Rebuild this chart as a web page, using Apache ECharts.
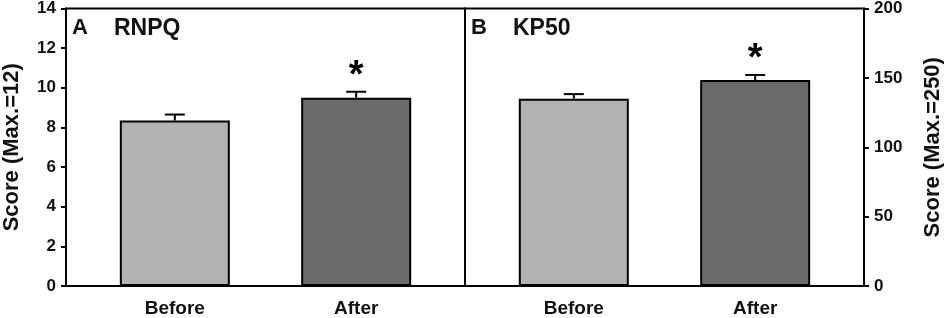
<!DOCTYPE html>
<html>
<head>
<meta charset="utf-8">
<script src="https://cdn.jsdelivr.net/npm/echarts@6/dist/echarts.min.js"></script>
<style>
  html, body { margin: 0; padding: 0; background: #fff; }
  #chart { width: 945px; height: 318px; }
</style>
</head>
<body>
<div id="chart"></div>
<script>
// data
const categories = ['Before', 'After'];
const rnpqMean = [8.35, 9.5];
const rnpqErr = [0.3, 0.3];
const kp50Mean = [135, 148.5];
const kp50Err = [3.3, 3.6];
const signif = ['', '*'];
const yTicksA = { min: 0, max: 14, interval: 2 };
const yTicksB = { min: 0, max: 200, interval: 50 };

const barColors = ['#b2b2b2', '#6b6b6b'];
const FONT = 'Liberation Sans, Arial, sans-serif';

const myChart = echarts.init(document.getElementById('chart'), null, { renderer: 'canvas' });

const barData = (means) => means.map((v, i) => ({
    value: [i, v],
    itemStyle: { color: barColors[i] }
}));
const errData = (means, errs) => means.map((v, i) => [i, v, errs[i]]);

// error bar (upper half only) + significance star
const renderErr = (params, api) => {
    const x = api.value(0);
    const top = api.coord([x, api.value(1)]);
    const hi = api.coord([x, api.value(1) + api.value(2)]);
    const half = 10;
    const style = { stroke: '#000', lineWidth: 2 };
    const children = [
        { type: 'line', shape: { x1: top[0], y1: top[1], x2: hi[0], y2: hi[1] }, style: style },
        { type: 'line', shape: { x1: hi[0] - half, y1: hi[1], x2: hi[0] + half, y2: hi[1] }, style: style }
    ];
    const s = signif[params.dataIndex];
    if (s) {
        children.push({
            type: 'text',
            style: {
                text: s, x: hi[0], y: hi[1] + 4,
                align: 'center', verticalAlign: 'bottom',
                font: 'bold 38px ' + FONT, fill: '#000'
            }
        });
    }
    return { type: 'group', children: children };
};

const xAxisBase = (gridIndex) => ({
    type: 'value',
    gridIndex: gridIndex,
    min: -0.6,
    max: 1.6,
    axisLine: { show: true, onZero: false, lineStyle: { color: '#000', width: 2 } },
    axisTick: { show: false },
    splitLine: { show: false },
    axisLabel: {
        customValues: [0, 1],
        formatter: (v) => categories[v] || '',
        color: '#111',
        fontFamily: FONT,
        fontWeight: 'bold',
        fontSize: 19,
        margin: 13
    }
});

const yAxisBase = (gridIndex, ticks, pos, name, gap) => ({
    type: 'value',
    gridIndex: gridIndex,
    position: pos,
    min: ticks.min,
    max: ticks.max,
    interval: ticks.interval,
    name: name,
    nameLocation: 'middle',
    nameRotate: 90,
    nameGap: gap,
    nameTextStyle: { color: '#111', fontFamily: FONT, fontWeight: 'bold', fontSize: 22 },
    axisLine: { show: true, onZero: false, lineStyle: { color: '#000', width: 2 } },
    axisTick: { show: true, length: 5, lineStyle: { color: '#000', width: 2 } },
    splitLine: { show: false },
    axisLabel: {
        color: '#111',
        fontFamily: FONT,
        fontWeight: 'bold',
        fontSize: 17,
        margin: 10
    }
});

const titleStyle = (size) => ({ color: '#111', fontFamily: FONT, fontWeight: 'bold', fontSize: size });

const option = {
    animation: false,
    backgroundColor: '#fff',
    title: [
        { text: 'A', left: 72, top: 17, padding: 0, textStyle: titleStyle(22) },
        { text: 'RNPQ', left: 114, top: 17, padding: 0, textStyle: titleStyle(23) },
        { text: 'B', left: 471, top: 17, padding: 0, textStyle: titleStyle(22) },
        { text: 'KP50', left: 513, top: 17, padding: 0, textStyle: titleStyle(23) }
    ],
    grid: [
        { left: 66, right: 480, top: 8, bottom: 31, show: true, borderColor: '#000', borderWidth: 2, backgroundColor: 'transparent' },
        { left: 465, right: 79, top: 8, bottom: 31, show: true, borderColor: '#000', borderWidth: 2, backgroundColor: 'transparent' }
    ],
    xAxis: [xAxisBase(0), xAxisBase(1)],
    yAxis: [
        yAxisBase(0, yTicksA, 'left', 'Score (Max.=12)', 43),
        yAxisBase(1, yTicksB, 'right', 'Score (Max.=250)', 58)
    ],
    series: [
        {
            type: 'bar', xAxisIndex: 0, yAxisIndex: 0, barWidth: 110,
            itemStyle: { borderColor: '#000', borderWidth: 2 },
            data: barData(rnpqMean)
        },
        {
            type: 'custom', xAxisIndex: 0, yAxisIndex: 0,
            renderItem: renderErr, data: errData(rnpqMean, rnpqErr), z: 5
        },
        {
            type: 'bar', xAxisIndex: 1, yAxisIndex: 1, barWidth: 110,
            itemStyle: { borderColor: '#000', borderWidth: 2 },
            data: barData(kp50Mean)
        },
        {
            type: 'custom', xAxisIndex: 1, yAxisIndex: 1,
            renderItem: renderErr, data: errData(kp50Mean, kp50Err), z: 5
        }
    ]
};

myChart.setOption(option);
</script>
</body>
</html>
